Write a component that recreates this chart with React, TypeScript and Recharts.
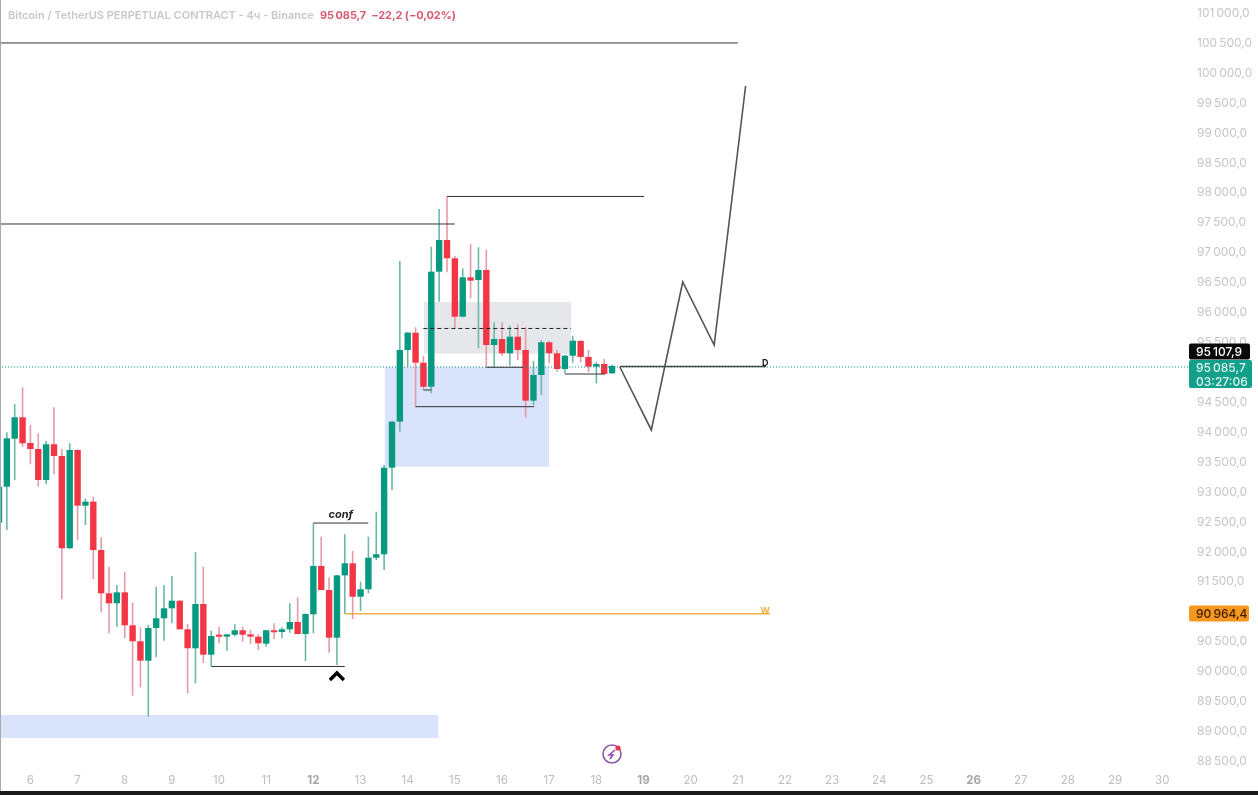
import { Bar, ComposedChart, Line, ReferenceArea, ReferenceDot, ReferenceLine, XAxis, YAxis } from "recharts";

const opens = [92465,93067,93869,94227,93798,93697,93179,93776,93580,92038,93681,92750,92817,92009,91286,91119,91302,90751,90484,90160,90706,90868,91035,91162,90684,90367,91107,90260,90594,90561,90594,90668,90600,90561,90444,90668,90639,90684,90806,90606,90935,91742,91341,90544,91585,91787,91229,91353,91881,91938,93385,94154,95352,95641,95139,94738,96660,97190,96884,95908,96566,96521,96689,95435,95535,95297,95574,95352,94505,94934,95480,95297,95034,95256,95502,95235,95073,95118,94962];
const closes = [93067,93876,94227,93792,93697,93179,93776,93580,92038,93681,92750,92817,92009,91286,91119,91302,90751,90484,90160,90706,90868,91035,91162,90684,90367,91107,90260,90572,90572,90600,90668,90594,90561,90450,90668,90639,90684,90806,90606,90940,91742,91341,90544,91585,91787,91229,91353,91881,91938,93385,94154,95352,95641,95139,94738,96660,97190,96884,95908,96566,96510,96689,95435,95535,95297,95574,95352,94505,94934,95480,95297,95034,95256,95507,95235,95073,95118,94950,95085.7];
const highs = [93129,93976,94449,94728,94098,93960,93831,94394,93697,93792,93690,92873,92900,92222,91730,91424,91647,91129,90717,90756,91396,91424,91575,91170,90773,91971,91730,90661,90727,90606,90768,90727,90672,90600,90672,90784,90717,91119,91219,90952,92456,92232,91553,91592,92272,91993,91480,92232,92650,93430,94165,96839,95652,95731,95251,97078,97708,97913,96927,96717,97123,97068,97023,95815,95815,95758,95781,95731,95168,95519,95502,95352,95268,95590,95519,95352,95156,95201,95107];
const lows = [92344,92344,93179,93735,93442,93067,93112,93275,91186,92030,92176,92427,91525,90968,90617,90727,90534,89575,89715,89224,90216,90494,90784,90680,89615,89782,90121,90071,90450,90327,90561,90477,90439,90338,90394,90522,90534,90628,90600,90154,90617,91335,90293,90088,90940,90856,90990,91286,91842,91675,93012,93986,95073,94404,94683,94628,96159,96650,95714,95900,96216,95380,95063,95063,95256,95089,95185,94220,94432,94600,95129,94989,94962,95140,95146,94979,94795,94934,94950];

const dayLabels = ["6","7","8","9","10","11","12","13","14","15","16","17","18","19","20","21","22","23","24","25","26","27","28","29","30"];
const dayTicks = dayLabels.map((_, n) => 4 + n * 6);
const boldDays = ["12", "19", "26"];
// 91000 and 95000 sit behind the price badges
const priceTicks = [88500,89000,89500,90000,90500,91500,92000,92500,93000,93500,94000,94500,95500,96000,96500,97000,97500,98000,98500,99000,99500,100000,100500,101000];

const currentPrice = 95085.7;
const bidPrice = 95107.9;
const weeklyPrice = 90964.4;

const levels = [
  { from: 0.14, to: 94, price: 100482 },
  { from: 0.14, to: 58, price: 97457 },
  { from: 57, to: 82.1, price: 97917 },
  { from: 40, to: 47, price: 92460 },
  { from: 27, to: 44, price: 90063 },
  { from: 62, to: 66.7, price: 95063 },
  { from: 53, to: 68.1, price: 94404 },
  { from: 54, to: 55, price: 94683 },
  { from: 72, to: 77, price: 94950 },
];
const zones = [
  { from: 49.1, to: 70, top: 95067, bottom: 93400 },
  { from: 0.14, to: 55.9, top: 89252, bottom: 88868 },
];
const projection = [
  { i: 79, price: 95067 },
  { i: 83, price: 94015 },
  { i: 87, price: 96488 },
  { i: 91, price: 95435 },
  { i: 95, price: 99763 },
];

const candles = opens.map((open, i) => ({
  i,
  open,
  close: closes[i],
  range: [lows[i], highs[i]],
}));

const formatPrice = (v: number) => {
  const [whole, frac] = v.toFixed(1).split(".");
  return `${whole.slice(0, -3)}\u2009${whole.slice(-3)},${frac}`;
};

const font = "Inter, sans-serif";
const UP = "#089981";
const DOWN = "#f23645";

function Candle(props: any) {
  const { x, y, width, height, payload } = props;
  const top = Math.min(y, y + height);
  const h = Math.abs(height);
  const [low, high] = payload.range;
  const perUnit = h / (high - low);
  const bodyTop = top + (high - Math.max(payload.open, payload.close)) * perUnit;
  const bodyH = Math.abs(payload.open - payload.close) * perUnit;
  const up = payload.close >= payload.open;
  const cx = x + width / 2;
  return (
    <g>
      <line x1={cx} x2={cx} y1={top} y2={top + h} stroke={up ? "#6db7a8" : "#e59aa6"} strokeWidth={1.6} />
      <rect x={cx - 3.2} y={bodyTop} width={6.4} height={Math.max(bodyH, 2)} fill={up ? UP : DOWN} />
    </g>
  );
}

function PriceTick(props: any) {
  const { y, payload } = props;
  return (
    <text x={1197} y={y + 5} fontFamily={font} fontSize={12} fill="#c6c6c6">
      {formatPrice(payload.value)}
    </text>
  );
}

function DayTick(props: any) {
  const { x, y, payload } = props;
  const label = dayLabels[dayTicks.indexOf(payload.value)];
  const bold = boldDays.includes(label);
  return (
    <text x={x} y={y + 6} textAnchor="middle" fontFamily={font} fontSize={11.5} fontWeight={bold ? 700 : 400} fill={bold ? "#a8a8a8" : "#bdbdbd"}>
      {label}
    </text>
  );
}

function Badge({ viewBox, fill, color, lines, w, h, shift }: any) {
  const top = viewBox.y + shift;
  return (
    <g>
      <rect x={1189} y={top} width={w} height={h} rx={2} fill={fill} />
      {lines.map((t: string, n: number) => (
        <text key={t} x={1196} y={top + 12 + n * 14} fontFamily={font} fontSize={12} fontWeight={500} fill={color}>
          {t}
        </text>
      ))}
    </g>
  );
}

function Chevron({ cx, cy }: any) {
  return <path d={`M${cx - 7} ${cy + 4} L${cx} ${cy - 3} L${cx + 7} ${cy + 4}`} fill="none" stroke="#000" strokeWidth={3.4} />;
}

function AlertIcon({ cx, cy }: any) {
  return (
    <g>
      <circle cx={cx} cy={cy} r={9} fill="#fff" stroke="#8e5aa8" strokeWidth={1.6} />
      <path d={`M${cx + 3} ${cy - 4} L${cx - 3} ${cy + 1} L${cx + 1} ${cy + 1} L${cx - 2} ${cy + 5}`} fill="none" stroke="#8e3fa8" strokeWidth={1.4} />
      <circle cx={cx + 6} cy={cy - 6} r={2.6} fill="#e8344e" />
    </g>
  );
}

export default function App() {
  return (
    <div style={{ position: "absolute", left: 0, top: 0, width: 1258, height: 795, overflow: "hidden", background: "#fff", filter: "blur(0.35px)" }}>
      <ComposedChart width={1258} height={795} data={candles} margin={{ top: 0, right: 0, left: 0, bottom: 0 }}>
        <XAxis dataKey="i" type="number" domain={[0.14, 151.28]} allowDataOverflow ticks={dayTicks} interval={0} height={25} axisLine={false} tickLine={false} tick={<DayTick />} />
        <YAxis orientation="right" type="number" domain={[88333, 101200]} allowDataOverflow ticks={priceTicks} interval={0} width={70} axisLine={false} tickLine={false} tick={<PriceTick />} />

        <ReferenceArea x1={54.1} x2={72.8} y1={96154} y2={95290} fill="#e6e7ea" fillOpacity={1} stroke="none" />
        {zones.map((z) => (
          <ReferenceArea key={z.from} x1={z.from} x2={z.to} y1={z.top} y2={z.bottom} fill="#d9e3fb" fillOpacity={1} stroke="none" />
        ))}

        <ReferenceLine y={currentPrice - 18} stroke={UP} strokeWidth={1} strokeDasharray="1 2" />

        <Bar dataKey="range" barSize={6} shape={<Candle />} isAnimationActive={false} />

        {levels.map((l) => (
          <ReferenceLine key={l.price} segment={[{ x: l.from, y: l.price }, { x: l.to, y: l.price }]} stroke="#333" strokeWidth={1} />
        ))}
        <ReferenceLine segment={[{ x: 54, y: 95711 }, { x: 72.8, y: 95711 }]} stroke="#222" strokeWidth={1} strokeDasharray="4 3" />
        <ReferenceLine segment={[{ x: 44, y: 90945 }, { x: 98.1, y: 90945 }]} stroke="#eeb040" strokeWidth={1.4} />
        <ReferenceLine segment={[{ x: 79, y: 95076 }, { x: 97.6, y: 95076 }]} stroke="#444" strokeWidth={1.5} />
        <Line data={projection} dataKey="price" stroke="#555" strokeWidth={1.6} dot={false} legendType="none" isAnimationActive={false} />

        <ReferenceDot x={43.5} y={92611} r={0} stroke="none" label={{ value: "conf", position: "center", fontFamily: font, fontSize: 11, fontWeight: 700, fontStyle: "italic", fill: "#222" }} />
        <ReferenceDot x={97.5} y={95145} r={0} stroke="none" label={{ value: "D", position: "center", fontFamily: font, fontSize: 9, fontWeight: 700, fill: "#222" }} />
        <ReferenceDot x={97.5} y={90990} r={0} stroke="none" label={{ value: "W", position: "center", fontFamily: font, fontSize: 9, fontWeight: 700, fill: "#eeb040" }} />
        <ReferenceDot x={43} y={89904} r={0} shape={<Chevron />} />
        <ReferenceDot x={78} y={88600} r={0} shape={<AlertIcon />} />

        <ReferenceLine y={weeklyPrice} stroke="none" ifOverflow="visible" zIndex={2000} label={{ zIndex: 2000, content: (p: any) => <Badge {...p} fill="#f7971e" color="#3a1d00" lines={[formatPrice(weeklyPrice)]} w={60} h={16} shift={-7} /> } as any} />
        <ReferenceLine y={bidPrice} stroke="none" ifOverflow="visible" zIndex={2000} label={{ zIndex: 2000, content: (p: any) => <Badge {...p} fill="#0a0a0a" color="#fff" lines={[formatPrice(bidPrice)]} w={61} h={16} shift={-21} /> } as any} />
        <ReferenceLine y={currentPrice} stroke="none" ifOverflow="visible" zIndex={2000} label={{ zIndex: 2000, content: (p: any) => <Badge {...p} fill="#12a08a" color="#dff3ee" lines={[formatPrice(currentPrice), "03:27:06"]} w={63} h={28} shift={-6} /> } as any} />
      </ComposedChart>

      <div style={{ position: "absolute", left: 8, top: 8, fontFamily: font, fontSize: 11, fontWeight: 600, color: "#c8c8c8", whiteSpace: "nowrap" }}>
        Bitcoin / TetherUS PERPETUAL CONTRACT - 4ч - Binance
        <span style={{ color: "#d9596e", fontWeight: 700, marginLeft: 6, letterSpacing: -0.1 }}>95{"\u2009"}085,7&nbsp; −22,2 (−0,02%)</span>
      </div>
      <div style={{ position: "absolute", left: 0, top: 0, width: 1, height: 791, background: "#aaa" }} />
      <div style={{ position: "absolute", left: 0, top: 791, width: 1258, height: 4, background: "#1b1b1b" }} />
    </div>
  );
}
